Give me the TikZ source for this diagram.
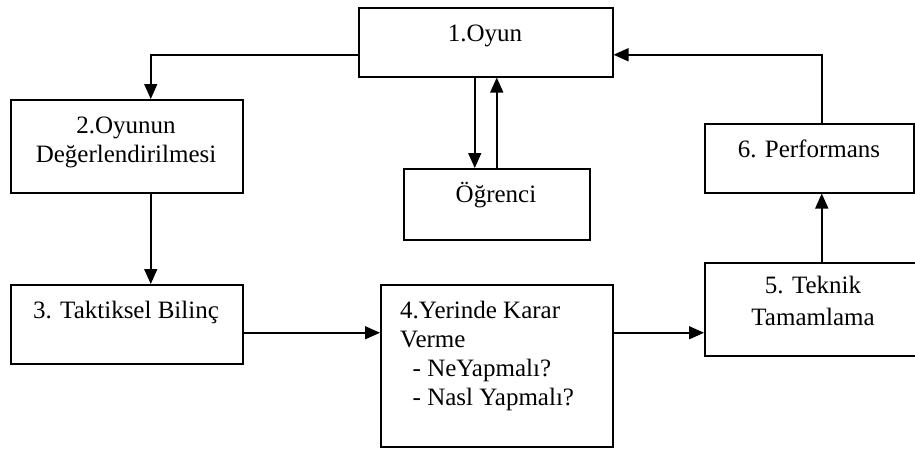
\documentclass[tikz,border=0pt]{standalone}
\usepackage{fontspec}
\setmainfont{Liberation Serif}
\usetikzlibrary{arrows.meta}
\tikzstyle{box}=[rectangle, draw=black, line width=1.5pt, inner sep=0pt, anchor=north west]
\tikzstyle{annot}=[align=center, inner sep=0pt, anchor=base, font=\fontsize{25}{29}\selectfont]
\tikzstyle{arr}=[line width=1.5pt, -{Triangle[length=15pt,width=13pt]}]

\begin{document}
\begin{tikzpicture}[x=1pt,y=-1pt]
	\useasboundingbox (0,0) rectangle (915,448);

	% boxes
	\node[box, minimum width=254pt, minimum height=69pt](oyun) at (358,7){};
	\node[box, minimum width=232pt, minimum height=93pt](deg) at (10,99){};
	\node[box, minimum width=232pt, minimum height=79pt](bilinc) at (10,284){};
	\node[box, minimum width=232pt, minimum height=162pt](karar) at (380,284){};
	\node[box, minimum width=218pt, minimum height=93pt](teknik) at (704,262){};
	\node[box, minimum width=209pt, minimum height=69pt](perf) at (704,123){};
	\node[box, minimum width=186pt, minimum height=71pt](ogrenci) at (403,168){};

	% texts (base = last line)
	\node[annot](toyun) at (485,41) {1.Oyun};
	\node[annot](tdeg) at (126,162) {2.Oyunun\\De\u{g}erlendirilmesi};
	\node[annot](tbilinc) at (126,318) {3. Taktiksel Bilin\c{c}};
	\node[annot, align=left, anchor=base west](tkarar) at (400,405) {4.Yerinde Karar\\Verme\\\ \ - NeYapmal\i?\\\ \ - Nasl Yapmal\i?};
	\node[annot](tteknik) at (813,325) {5. Teknik\\[3pt]Tamamlama};
	\node[annot](tperf) at (809,157) {6. Performans};
	\node[annot](togrenci) at (496,202) {\"O\u{g}renci};

	% connectors
	\coordinate (k1) at ([yshift=-8.5pt]bilinc.east);
	\coordinate (k2) at ([xshift=8pt]teknik.north);
	\coordinate (d1) at ([xshift=-11pt]oyun.south);
	\coordinate (u1) at ([xshift=11pt]oyun.south);

	\draw[arr] ([yshift=-12.5pt]oyun.west) -| ([xshift=24pt]deg.north);
	\draw[arr] ([xshift=24pt]deg.south) -- ([xshift=24pt]bilinc.north);
	\draw[arr] (k1) -- (k1 -| karar.west);
	\draw[arr] (k1 -| karar.east) -- (k1 -| teknik.west);
	\draw[arr] (k2) -- (k2 |- perf.south);
	\draw[arr] (k2 |- perf.north) |- ([yshift=-12.5pt]oyun.east);
	\draw[arr] (d1) -- (d1 |- ogrenci.north);
	\draw[arr] (u1 |- ogrenci.north) -- (u1);

\end{tikzpicture}
\end{document}
